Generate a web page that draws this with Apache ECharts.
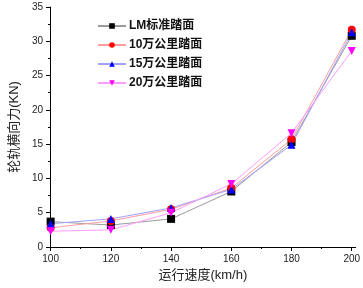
<!DOCTYPE html>
<html>
<head>
<meta charset="utf-8">
<script src="https://cdn.jsdelivr.net/npm/echarts@6/dist/echarts.min.js"></script>
<style>
  html, body { margin: 0; padding: 0; background: #fff; }
  #main { width: 363px; height: 288px; }
</style>
</head>
<body>
<div id="main"></div>
<script>
// 运行速度 (km/h)
var speeds = [100, 120, 140, 160, 180, 200];
var minorTicks = [110, 130, 150, 170, 190];
// 轮轨横向力 (KN)
var lmData = [3.7, 3.2, 4.1, 8.1, 15.3, 30.8];
var km10Data = [2.8, 3.8, 5.5, 8.6, 15.7, 31.7];
var km15Data = [3.4, 4.1, 5.7, 8.4, 14.9, 31.3];
var km20Data = [2.3, 2.5, 5.0, 9.2, 16.6, 28.6];
var seriesNames = ['LM标准踏面', '10万公里踏面', '15万公里踏面', '20万公里踏面'];

function pairs(arr) {
    return speeds.map(function(s, i) { return [s, arr[i]]; });
}

var myChart = echarts.init(document.getElementById('main'));

function makeSeries(name, data, lineColor, markColor, symbol, rotate) {
    return {
        name: name,
        type: 'line',
        xAxisIndex: 0,
        symbol: symbol,
        symbolSize: 8,
        symbolRotate: rotate || 0,
        showAllSymbol: true,
        lineStyle: { color: lineColor, width: 1 },
        itemStyle: { color: markColor },
        z: 3,
        data: pairs(data)
    };
}

var axisFont = { fontFamily: 'Arial, Liberation Sans, sans-serif', fontSize: 10, color: '#222' };

option = {
    animation: false,
    backgroundColor: '#fff',
    grid: { left: 43, right: 6, top: 7, bottom: 41 },
    legend: {
        orient: 'vertical',
        left: 92,
        top: 15,
        itemWidth: 28,
        itemHeight: 7,
        itemGap: 7,
        textStyle: {
            fontFamily: 'Arial, Liberation Sans, Noto Sans CJK SC, sans-serif',
            fontSize: 12,
            fontWeight: 'bold',
            color: '#111',
            padding: [0, 0, 0, -2]
        },
        data: seriesNames
    },
    xAxis: [{
        type: 'value',
        min: 99.8,
        max: 201.3,
        name: '运行速度(km/h)',
        nameLocation: 'middle',
        nameGap: 22,
        nameTextStyle: { fontFamily: 'Arial, Noto Sans CJK SC, sans-serif', fontSize: 13, color: '#222' },
        axisLine: { onZero: false, lineStyle: { color: '#000', width: 1 } },
        axisTick: { show: true, inside: false, length: 4, customValues: speeds, lineStyle: { color: '#000' } },
        axisLabel: Object.assign({ margin: 7, customValues: speeds }, axisFont),
        splitLine: { show: false }
    }, {
        type: 'value',
        min: 99.8,
        max: 201.3,
        position: 'bottom',
        axisLine: { show: false, onZero: false },
        axisTick: { show: true, inside: false, length: 2, customValues: minorTicks, lineStyle: { color: '#000' } },
        axisLabel: { show: false },
        splitLine: { show: false }
    }],
    yAxis: {
        type: 'value',
        min: 0,
        max: 35,
        interval: 5,
        name: '轮轨横向力(KN)',
        nameLocation: 'middle',
        nameGap: 29,
        nameTextStyle: { fontFamily: 'Arial, Noto Sans CJK SC, sans-serif', fontSize: 13, color: '#222' },
        axisLine: { show: true, lineStyle: { color: '#000', width: 1 } },
        axisTick: { show: true, inside: false, length: 4, lineStyle: { color: '#000' } },
        minorTick: { show: true, splitNumber: 2, length: 2, lineStyle: { color: '#000' } },
        axisLabel: Object.assign({ margin: 7 }, axisFont),
        splitLine: { show: false }
    },
    series: [
        makeSeries(seriesNames[0], lmData, '#9a9a9a', '#000000', 'rect'),
        makeSeries(seriesNames[1], km10Data, '#ff9c9c', '#ff0000', 'circle'),
        makeSeries(seriesNames[2], km15Data, '#a0a0ff', '#0000ff', 'triangle'),
        makeSeries(seriesNames[3], km20Data, '#ff9cff', '#ff00ff', 'triangle', 180)
    ]
};

myChart.setOption(option);
</script>
</body>
</html>
